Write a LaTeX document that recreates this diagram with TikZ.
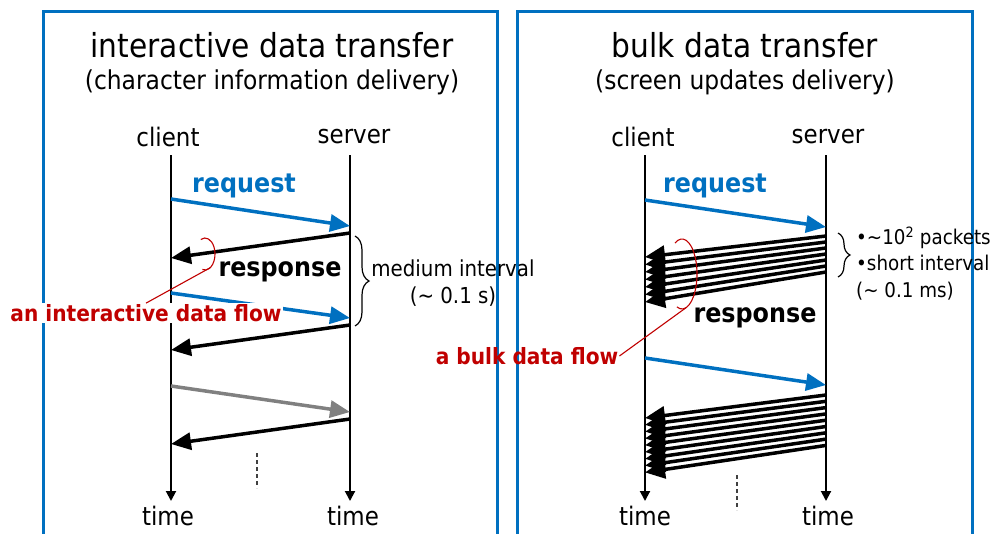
\documentclass[tikz,border=0pt]{standalone}
\usepackage{fontspec}
\setmainfont{DejaVu Sans}[FakeStretch=0.9]
\usetikzlibrary{arrows.meta,decorations.pathreplacing,calc}
\definecolor{panelblue}{HTML}{0070C0}
\definecolor{flowred}{HTML}{C00000}
\definecolor{msggray}{HTML}{808080}
\newcommand{\sz}[1]{\fontsize{#1}{#1}\selectfont}
\tikzset{
  panel/.style={draw=panelblue, line width=3pt},
  timeline/.style={line width=2pt, -{Triangle[length=10pt,width=10pt]}},
  msg/.style={line width=3.5pt, -{Triangle[length=20pt,width=17pt]}},
  reqmsg/.style={msg, draw=panelblue, -{Triangle[length=20pt,width=17pt,fill=panelblue]}},
  resmsg/.style={msg, draw=black},
  graymsg/.style={msg, draw=msggray, -{Triangle[length=20pt,width=17pt,fill=msggray]}},
  bulkmsg/.style={line width=3.5pt, -{Triangle[length=20pt,width=18pt]}},
  title/.style={font=\sz{33}},
  subtitle/.style={font=\sz{26}},
  hostlabel/.style={font=\sz{25.5}},
  reqlabel/.style={font=\sz{26.5}\bfseries, text=panelblue},
  reslabel/.style={font=\sz{26.5}\bfseries},
  note/.style={font=\sz{22}},
  smallnote/.style={font=\sz{20.3}, inner sep=0pt},
  flowlabel/.style={font=\sz{22.4}\bfseries, text=flowred, inner sep=1pt},
  flowmark/.style={draw=flowred, line width=1.1pt},
  interval/.style={decorate, decoration={brace, amplitude=#1}, line width=1.2pt},
  etc/.style={line width=1.3pt, draw=black!75, dash pattern=on 4pt off 3pt},
}
\begin{document}
\begin{tikzpicture}[x=1pt, y=-1pt]
\useasboundingbox (0,0) rectangle (1000,533);

% panel frames (open at the bottom)
\draw[panel] (43,545) |- (497,11) -- (497,545);
\draw[panel] (517,545) |- (972,11) -- (972,545);

% ---------------- interactive data transfer ----------------
\node[title] (t1) at (272,45) {interactive data transfer};
\node[subtitle] (s1) at (272,82) {(character information delivery)};
\node[hostlabel] (cl1) at (168,137) {client};
\node[hostlabel] (sv1) at (354,137) {server};
\node[hostlabel] (tm1) at (168,516) {time};
\node[hostlabel] (tm2) at (353,516) {time};

\coordinate (c1top) at (171,155); \coordinate (c1bot) at (171,501);
\coordinate (s1top) at (350,155); \coordinate (s1bot) at (350,501);
\draw[timeline] (c1top) -- (c1bot);
\draw[timeline] (s1top) -- (s1bot);

\coordinate (a1s) at (171,199); \coordinate (a1e) at (350,226);
\coordinate (a2s) at (350,233); \coordinate (a2e) at (171,258);
\coordinate (a3s) at (171,293); \coordinate (a3e) at (350,318);
\coordinate (a4s) at (350,325); \coordinate (a4e) at (171,350);
\coordinate (a5s) at (171,386); \coordinate (a5e) at (350,412);
\coordinate (a6s) at (350,419); \coordinate (a6e) at (171,444);

\draw[reqmsg] (a1s) -- (a1e);
\draw[resmsg] (a2s) -- (a2e);
\draw[reqmsg] (a3s) -- (a3e);
\draw[resmsg] (a4s) -- (a4e);
\draw[graymsg] (a5s) -- (a5e);
\draw[resmsg] (a6s) -- (a6e);

\node[reqlabel] (rq1) at (244,186) {request};
\node[reslabel] (rs1) at (280,272) {response};

\coordinate (d1a) at (257,453); \coordinate (d1b) at (257,488);
\draw[etc] (d1a) -- (d1b);

\coordinate (b1a) at (355,236); \coordinate (b1b) at (355,326);
\draw[interval=14pt] (b1a) -- (b1b);
\node[note] (mi) at (453,268) {medium interval};
\node[note] (mt) at (453,297) {(\textasciitilde{} 0.1 s)};

\coordinate (eL) at (205,254);
\draw[flowmark] (eL) ++(-115:10 and 16) arc[start angle=-115, end angle=105, x radius=10, y radius=16];
\node[flowlabel, fill=white] (fl1) at (146,313) {an interactive data flow};
\coordinate (eLp) at ($(eL)+(60:10 and 16)$);
\draw[flowmark] (eLp) -- (fl1.north);

% ---------------- bulk data transfer ----------------
\node[title] (t2) at (745,45) {bulk data transfer};
\node[subtitle] (s2) at (745,82) {(screen updates delivery)};
\node[hostlabel] (cl2) at (643,137) {client};
\node[hostlabel] (sv2) at (828,137) {server};
\node[hostlabel] (tm3) at (645,516) {time};
\node[hostlabel] (tm4) at (828,516) {time};

\coordinate (c2top) at (645,155); \coordinate (c2bot) at (645,501);
\coordinate (s2top) at (826,155); \coordinate (s2bot) at (826,501);
\draw[timeline] (c2top) -- (c2bot);
\draw[timeline] (s2top) -- (s2bot);

\coordinate (r1s) at (645,200); \coordinate (r1e) at (826,227);
\coordinate (r2s) at (645,358); \coordinate (r2e) at (826,385);
\draw[reqmsg] (r1s) -- (r1e);
\draw[reqmsg] (r2s) -- (r2e);

% first burst of packets
\foreach \i in {0,...,6} {
  \coordinate (p\i s) at (826,{236+6*\i});
  \coordinate (p\i e) at (645,{257+7.5*\i});
  \draw[bulkmsg] (p\i s) -- (p\i e);
}
% second burst of packets
\foreach \i in {0,...,8} {
  \coordinate (q\i s) at (826,{395+6.3*\i});
  \coordinate (q\i e) at (645,{418+6.8*\i});
  \draw[bulkmsg] (q\i s) -- (q\i e);
}

\node[reqlabel] (rq2) at (715,186) {request};
\node[reslabel] (rs2) at (755,318) {response};

\coordinate (d2a) at (737,475); \coordinate (d2b) at (737,510);
\draw[etc] (d2a) -- (d2b);

\coordinate (b2a) at (838,233); \coordinate (b2b) at (838,277);
\draw[interval=12pt] (b2a) -- (b2b);
\node[smallnote, anchor=west] (pk) at (856,238) {•\textasciitilde10\textsuperscript{2} packets};
\node[smallnote, anchor=west] (si) at (856,263) {•short interval};
\node[smallnote] (ms) at (905,291) {(\textasciitilde{} 0.1 ms)};

\coordinate (eR) at (682,274);
\draw[flowmark] (eR) ++(-118:15 and 35) arc[start angle=-118, end angle=110, x radius=15, y radius=35];
\node[flowlabel] (fl2) at (527,356) {a bulk data flow};
\coordinate (eRp) at ($(eR)+(75:15 and 35)$);
\draw[flowmark] (eRp) -- (fl2.east);
\end{tikzpicture}
\end{document}
